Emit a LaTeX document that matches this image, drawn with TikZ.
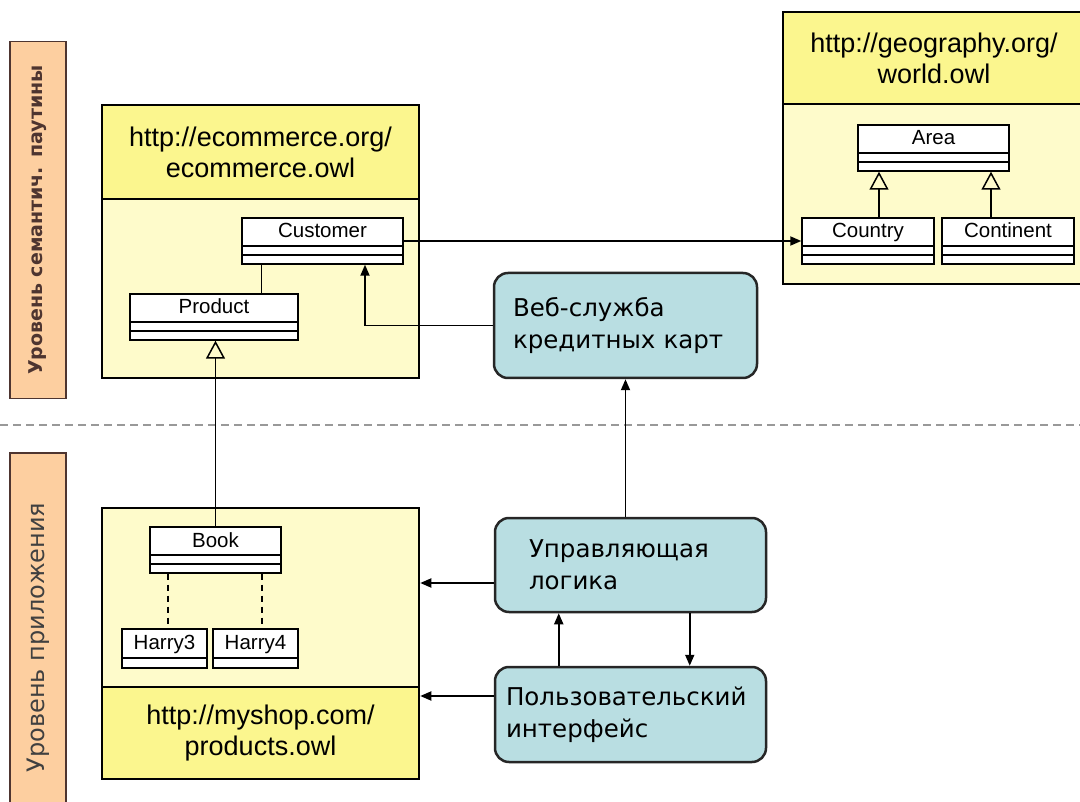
\documentclass[tikz,border=0pt]{standalone}
\usepackage{fontspec}
\setmainfont{Liberation Sans}
\newfontfamily\dejavu{DejaVu Sans}
\usetikzlibrary{arrows.meta}
\definecolor{headyellow}{HTML}{FBF68E}
\definecolor{bodyyellow}{HTML}{FEFBCB}
\definecolor{serviceblue}{HTML}{B9DEE2}
\definecolor{layerorange}{HTML}{FDCFA0}
\definecolor{layerline}{HTML}{4E3530}
\tikzset{
  pkghead/.style={draw, line width=2.5pt, fill=headyellow, inner sep=0pt, align=center,
    font=\fontsize{27}{31}\selectfont},
  pkgbody/.style={draw, line width=2.5pt, fill=bodyyellow, inner sep=0pt},
  umlclass/.style={draw, line width=1.4pt, fill=white, inner sep=0pt, text height=20pt,
    text depth=26pt, font=\fontsize{20.5}{24}\selectfont,
    path picture={\draw[line width=1.4pt]
      ([yshift=9pt]path picture bounding box.south west) -- ([yshift=9pt]path picture bounding box.south east)
      ([yshift=18pt]path picture bounding box.south west) -- ([yshift=18pt]path picture bounding box.south east);}},
  umlobject/.style={draw, line width=1.4pt, fill=white, inner sep=0pt, text height=20pt,
    text depth=19pt, font=\fontsize{20.5}{24}\selectfont,
    path picture={\draw[line width=1.4pt]
      ([yshift=10pt]path picture bounding box.south west) -- ([yshift=10pt]path picture bounding box.south east);}},
  service/.style={draw=black!85, line width=2.5pt, fill=serviceblue, rounded corners=14pt, align=left,
    font=\dejavu\fontsize{24.5}{32}\selectfont},
  layer/.style={draw=layerline, line width=1.5pt, fill=layerorange, rotate=90, inner sep=0pt,
    text=layerline, minimum height=56pt},
  link/.style={line width=1.8pt, -{Triangle[length=11pt,width=9pt]}},
  generalize/.style={line width=1.6pt, -{Triangle[open,length=18pt,width=19pt,line width=1.5pt]}},
  instance/.style={line width=1.6pt, dash pattern=on 6pt off 5pt}
}
\begin{document}
\begin{tikzpicture}[x=1pt,y=-1pt]
\useasboundingbox (0,0) rectangle (1080,802);
\node[layer, minimum width=357pt, font=\dejavu\bfseries\fontsize{19}{22}\selectfont] (semlayer) at (38,220) {Уровень семантич. паутины};
\node[layer, minimum width=369pt, font=\dejavu\fontsize{24}{28}\selectfont, text=black!75] (applayer) at (38,637.5) {Уровень приложения};
\coordinate (sepL) at (0,425);
\coordinate (sepR) at (1080,425);
\draw[black!40, line width=2pt, dash pattern=on 8pt off 5pt] (sepL) -- (sepR);

\node[pkgbody, minimum width=317pt, minimum height=179pt] (ecobody) at (260.5,288.5) {};
\node[pkghead, minimum width=317pt, minimum height=94pt] (ecohead) at (260.5,152) {http://ecommerce.org/\\ecommerce.owl};
\node[pkgbody, minimum width=302pt, minimum height=180pt] (geobody) at (934,194) {};
\node[pkghead, minimum width=302pt, minimum height=92pt] (geohead) at (934,58) {http://geography.org/\\world.owl};
\node[pkgbody, minimum width=317pt, minimum height=179pt] (shopbody) at (260.5,597.5) {};
\node[pkghead, minimum width=317pt, minimum height=92pt] (shophead) at (260.5,733) {http://myshop.com/\\products.owl};

\node[umlclass, minimum width=161pt] (customer) at (322.5,241) {Customer};
\node[umlclass, minimum width=168pt] (product) at (214,317) {Product};
\node[umlclass, minimum width=151pt] (area) at (933.5,148) {Area};
\node[umlclass, minimum width=132pt] (country) at (868,241) {Country};
\node[umlclass, minimum width=132pt] (continent) at (1008,241) {Continent};
\node[umlclass, minimum width=131pt] (book) at (215.5,550) {Book};
\node[umlobject, minimum width=85pt] (harry3) at (164.5,648.5) {Harry3};
\node[umlobject, minimum width=85pt] (harry4) at (255.5,648.5) {Harry4};

\node[service, inner xsep=19pt, text width=225pt, minimum height=105pt] (cardservice) at (625.5,325.5) {Веб-служба\\кредитных карт};
\node[service, inner xsep=34pt, text width=203pt, minimum height=94pt] (control) at (630.5,565) {Управляющая\\логика};
\node[service, inner xsep=11pt, text width=249pt, minimum height=95pt] (userui) at (630.5,714.5) {Пользовательский\\интерфейс};

\draw[line width=1.6pt] ([xshift=20pt]customer.south west) -- ([xshift=20pt]customer.south west |- product.north);
\draw[generalize] (book.north) -- (book.north |- product.south);
\draw[generalize] ([xshift=11pt]country.north) -- ([xshift=11pt]country.north |- area.south);
\draw[generalize] ([xshift=-17pt]continent.north) -- ([xshift=-17pt]continent.north |- area.south);
\draw[instance] ([xshift=-47.5pt]book.south) -- ([xshift=-47.5pt]book.south |- harry3.north);
\draw[instance] ([xshift=46.5pt]book.south) -- ([xshift=46.5pt]book.south |- harry4.north);
\draw[link] (customer.east) -- (country.west);
\draw[link] (cardservice.west) -| ([xshift=42.5pt]customer.south);
\draw[link] (control.north -| cardservice.south) -- (cardservice.south);
\draw[link] ([yshift=-18pt]control.west) -- ([yshift=-18pt]control.west -| shopbody.east);
\draw[link] ([yshift=18.5pt]userui.west) -- ([yshift=18.5pt]userui.west -| shophead.east);
\draw[link] ([xshift=65pt]userui.north west) -- ([xshift=65pt]userui.north west |- control.south);
\draw[link] ([xshift=196pt]control.south west) -- ([xshift=196pt]control.south west |- userui.north);
\end{tikzpicture}
\end{document}
